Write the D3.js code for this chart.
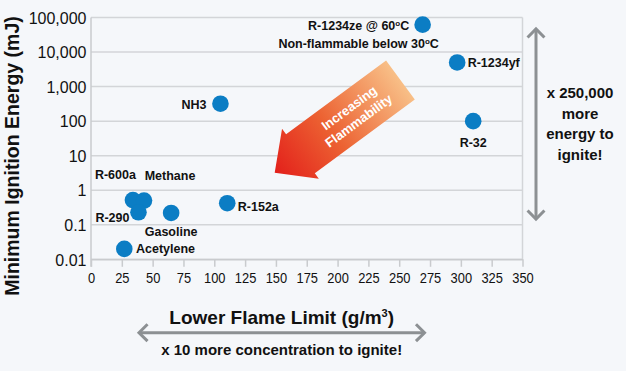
<!DOCTYPE html>
<html>
<head>
<meta charset="utf-8">
<script src="https://cdn.jsdelivr.net/npm/d3@7"></script>
<style>
  body { margin: 0; background: #f5f7fa; }
  text { font-family: Helvetica, Arial, 'Liberation Sans', sans-serif; }
</style>
</head>
<body>
<div id="chart"></div>
<script>
// data
let names = ['R-1234ze', 'R-1234yf', 'R-32', 'NH3', 'R-600a', 'Methane', 'R-290', 'R-152a', 'Gasoline', 'Acetylene']
let lfl = [269, 297, 310, 105, 34, 43, 38.5, 110.5, 65, 27]
let mie = [62000, 5000, 100, 320, 0.52, 0.5, 0.23, 0.42, 0.22, 0.02]

let xTicks = [0, 25, 50, 75, 100, 125, 150, 175, 200, 225, 250, 275, 300, 325, 350]
let yTicks = [0.01, 0.1, 1, 10, 100, 1000, 10000, 100000]

// label placement (pixels from the dot)
let labelPos = {
  'R-1234ze': { dx: -64, dy: 1, anchor: 'middle' },
  'R-1234yf': { dx: 10.5, dy: 0.5, anchor: 'start' },
  'R-32': { dx: 0, dy: 21, anchor: 'middle' },
  'NH3': { dx: -14, dy: 0.7, anchor: 'end' },
  'R-600a': { dx: -38, dy: -25.3, anchor: 'start' },
  'Methane': { dx: 0.7, dy: -25, anchor: 'start' },
  'R-290': { dx: -9, dy: 5, anchor: 'end' },
  'R-152a': { dx: 10.6, dy: 3.3, anchor: 'start' },
  'Gasoline': { dx: 0, dy: 18.7, anchor: 'middle' },
  'Acetylene': { dx: 11.7, dy: 0, anchor: 'start' }
}

let width = 626
let height = 371

let svg = d3
  .select('#chart')
  .append('svg')
  .attr('width', width)
  .attr('height', height)

svg
  .append('rect')
  .attr('width', width)
  .attr('height', height)
  .attr('fill', '#f5f7fa')

// scales
let x = d3.scaleLinear().domain([0, 350]).range([91, 522.5])
let y = d3.scaleLog().domain([0.01, 100000]).range([259.3, 17.5])

// gridlines
svg
  .selectAll('.grid')
  .data(yTicks)
  .enter()
  .append('line')
  .attr('class', 'grid')
  .attr('x1', x(0))
  .attr('x2', x(350))
  .attr('y1', d => y(d))
  .attr('y2', d => y(d))
  .attr('stroke', '#d3d5d8')
  .attr('stroke-width', 1.5)

// right border
svg
  .append('line')
  .attr('x1', x(350))
  .attr('x2', x(350))
  .attr('y1', y(100000))
  .attr('y2', y(0.01))
  .attr('stroke', '#d3d5d8')
  .attr('stroke-width', 1.5)

// x axis
let xAxis = svg
  .append('g')
  .attr('transform', `translate(0,${y(0.01)})`)
  .call(
    d3
      .axisBottom(x)
      .tickValues(xTicks)
      .tickSize(7.5)
      .tickSizeOuter(0)
  )
xAxis.select('.domain').attr('stroke', '#c9cbce').attr('stroke-width', 1.5)
xAxis.selectAll('.tick line').attr('stroke', '#c9cbce').attr('stroke-width', 1.5)
xAxis
  .selectAll('.tick text')
  .attr('y', 24)
  .attr('dy', 0)
  .attr('fill', '#111')
  .attr('font-size', 15)
  .attr('font-family', 'Helvetica, Arial, "Liberation Sans", sans-serif')
  .attr('transform', 'scale(0.86,1)')

// y axis
let yAxis = svg
  .append('g')
  .attr('transform', `translate(${x(0)},0)`)
  .call(
    d3
      .axisLeft(y)
      .tickValues(yTicks)
      .tickSize(0)
      .tickPadding(4.5)
      .tickFormat(d => (d >= 1 ? d3.format(',')(d) : String(d)))
  )
yAxis.select('.domain').remove()
yAxis
  .selectAll('.tick text')
  .attr('fill', '#111')
  .attr('font-size', 16)
  .attr('dy', '0.36em')
  .attr('font-family', 'Helvetica, Arial, "Liberation Sans", sans-serif')

svg
  .append('line')
  .attr('x1', x(0))
  .attr('x2', x(0))
  .attr('y1', y(100000))
  .attr('y2', y(0.01) + 7.5)
  .attr('stroke', '#c9cbce')
  .attr('stroke-width', 1.5)

// axis titles
svg
  .append('text')
  .text('Minimum Ignition Energy (mJ)')
  .attr('transform', 'translate(19,156) rotate(-90)')
  .attr('text-anchor', 'middle')
  .attr('font-size', 19.5)
  .attr('font-weight', 'bold')
  .attr('fill', '#111')

let xTitle = svg
  .append('text')
  .attr('x', 281.7)
  .attr('y', 323.5)
  .attr('text-anchor', 'middle')
  .attr('font-size', 19)
  .attr('font-weight', 'bold')
  .attr('fill', '#111')
xTitle.append('tspan').text('Lower Flame Limit (g/m')
xTitle.append('tspan').text('3').attr('font-size', 11).attr('dy', -7)
xTitle.append('tspan').text(')').attr('dy', 7)

// big "increasing flammability" arrow
let tail = [x(251), y(1550)]
let tip = [x(149), y(3.2)]
let len = Math.hypot(tip[0] - tail[0], tip[1] - tail[1])
let angle = (Math.atan2(tip[1] - tail[1], tip[0] - tail[0]) * 180) / Math.PI

let defs = svg.append('defs')
let grad = defs
  .append('linearGradient')
  .attr('id', 'flame')
  .attr('gradientUnits', 'userSpaceOnUse')
  .attr('x1', tip[0])
  .attr('y1', tip[1])
  .attr('x2', tail[0])
  .attr('y2', tail[1])
grad.append('stop').attr('offset', '0%').attr('stop-color', '#e3201b')
grad.append('stop').attr('offset', '45%').attr('stop-color', '#ec6232')
grad.append('stop').attr('offset', '100%').attr('stop-color', '#f8bf87')

let shaftW = 24.2
let headW = 31
let headL = 32
let arrowPts = [
  [0, -shaftW],
  [len - headL, -shaftW],
  [len - headL, -headW],
  [len, 0],
  [len - headL, headW],
  [len - headL, shaftW],
  [0, shaftW]
]
let rad = (angle * Math.PI) / 180
let arrowPath = arrowPts.map(p => [
  tail[0] + p[0] * Math.cos(rad) - p[1] * Math.sin(rad),
  tail[1] + p[0] * Math.sin(rad) + p[1] * Math.cos(rad)
])

svg
  .append('path')
  .attr('d', d3.line()(arrowPath) + 'Z')
  .attr('fill', 'url(#flame)')

let mid = [tail[0] + (tip[0] - tail[0]) * 0.37, tail[1] + (tip[1] - tail[1]) * 0.37]
let arrowText = svg
  .append('text')
  .attr('transform', `translate(${mid[0]},${mid[1]}) rotate(${angle + 180})`)
  .attr('text-anchor', 'middle')
  .attr('font-size', 13)
  .attr('font-weight', 'bold')
  .attr('fill', '#fff')
arrowText.append('tspan').attr('x', 0).attr('y', -3.5).text('Increasing')
arrowText.append('tspan').attr('x', 0).attr('y', 12.5).text('Flammability')

// points
let pts = names.map((n, i) => ({ name: n, lfl: lfl[i], mie: mie[i] }))

svg
  .selectAll('.dot')
  .data(pts)
  .enter()
  .append('circle')
  .attr('class', 'dot')
  .attr('cx', d => x(d.lfl))
  .attr('cy', d => y(d.mie))
  .attr('r', 8.3)
  .attr('fill', '#0b7dc4')

function degreeText(sel, before) {
  sel.append('tspan').text(before)
  sel.append('tspan').text('o').attr('font-size', 8).attr('dy', -4)
  sel.append('tspan').text('C').attr('dy', 4)
}

svg
  .selectAll('.label')
  .data(pts)
  .enter()
  .append('text')
  .attr('class', 'label')
  .attr('x', d => x(d.lfl) + labelPos[d.name].dx)
  .attr('y', d => y(d.mie) + labelPos[d.name].dy + 4.5)
  .attr('text-anchor', d => labelPos[d.name].anchor)
  .attr('font-size', 12.5)
  .attr('font-weight', 'bold')
  .attr('fill', '#111')
  .each(function(d) {
    let t = d3.select(this)
    if (d.name === 'R-1234ze') {
      degreeText(t, 'R-1234ze @ 60')
      let t2 = svg
        .append('text')
        .attr('x', x(d.lfl) + labelPos[d.name].dx)
        .attr('y', y(d.mie) + labelPos[d.name].dy + 4.5 + 17.5)
        .attr('text-anchor', 'middle')
        .attr('font-size', 12.5)
        .attr('font-weight', 'bold')
        .attr('fill', '#111')
      degreeText(t2, 'Non-flammable below 30')
    } else {
      t.text(d.name)
    }
  })

// grey double arrows
function doubleArrow(x1, y1, x2, y2) {
  let g = svg.append('g').attr('stroke', '#8c9093').attr('stroke-width', 3).attr('fill', 'none')
  g.append('line').attr('x1', x1).attr('y1', y1).attr('x2', x2).attr('y2', y2)
  let a = Math.atan2(y2 - y1, x2 - x1)
  let h = 12
  let spread = 0.78
  ;[[x1, y1, a + Math.PI], [x2, y2, a]].forEach(([px, py, ang]) => {
    g.append('path').attr(
      'd',
      d3.line()([
        [px - h * Math.cos(ang - spread), py - h * Math.sin(ang - spread)],
        [px, py],
        [px - h * Math.cos(ang + spread), py - h * Math.sin(ang + spread)]
      ])
    )
  })
}

doubleArrow(536, 29, 536, 219)
doubleArrow(139, 332.7, 424.5, 332.7)

let rightNote = ['x 250,000', 'more', 'energy to', 'ignite!']
svg
  .selectAll('.note')
  .data(rightNote)
  .enter()
  .append('text')
  .attr('class', 'note')
  .attr('x', 580)
  .attr('y', (d, i) => 92.5 + i * 20.6)
  .attr('dy', '0.36em')
  .attr('text-anchor', 'middle')
  .attr('font-size', 15)
  .attr('font-weight', 'bold')
  .attr('fill', '#111')
  .text(d => d)

svg
  .append('text')
  .attr('x', 281.7)
  .attr('y', 350)
  .attr('dy', '0.36em')
  .attr('text-anchor', 'middle')
  .attr('font-size', 15)
  .attr('font-weight', 'bold')
  .attr('fill', '#111')
  .text('x 10 more concentration to ignite!')
</script>
</body>
</html>
